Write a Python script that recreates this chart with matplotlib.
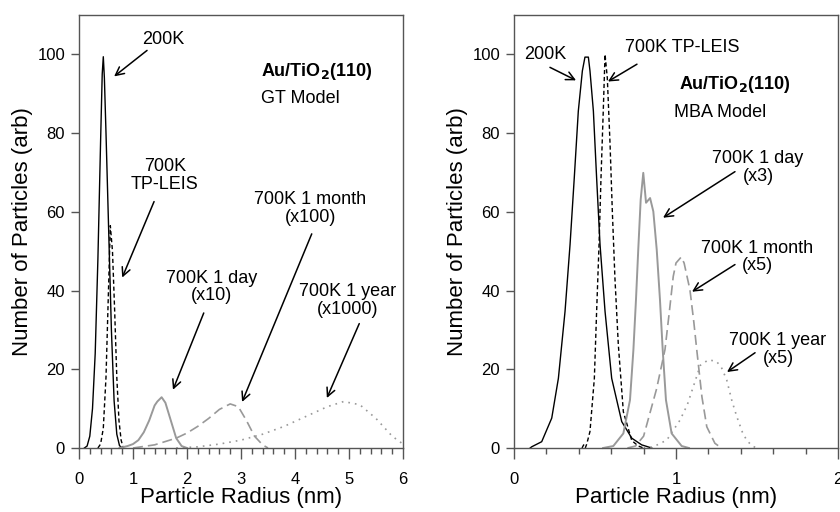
import matplotlib
matplotlib.use("Agg")
import matplotlib.pyplot as plt
from matplotlib.ticker import MultipleLocator

plt.rcParams['font.family'] = ['Liberation Sans', 'DejaVu Sans']

# ---------------- Left panel (GT model) ----------------
gt_200k_x = [0.10, 0.15, 0.20, 0.25, 0.30, 0.35, 0.40, 0.43, 0.45, 0.47, 0.50, 0.55, 0.60, 0.65, 0.70, 0.75, 0.80]
gt_200k_y = [0.0, 0.5, 3.0, 10.0, 24.0, 48.0, 78.0, 95.0, 99.4, 94.0, 80.0, 55.0, 30.0, 12.0, 3.5, 0.6, 0.0]

gt_leis_x = [0.35, 0.40, 0.45, 0.50, 0.55, 0.58, 0.62, 0.66, 0.70, 0.74, 0.78, 0.82]
gt_leis_y = [0.0, 1.0, 5.0, 18.0, 42.0, 56.5, 50.0, 35.0, 18.0, 7.0, 2.0, 0.0]

gt_day_x = [0.75, 0.90, 1.00, 1.10, 1.20, 1.30, 1.40, 1.45, 1.53, 1.60, 1.70, 1.80, 1.90, 2.00]
gt_day_y = [0.0, 0.5, 1.0, 2.0, 4.0, 7.0, 10.8, 11.8, 12.9, 11.5, 7.0, 2.5, 0.5, 0.0]

gt_month_x = [1.0, 1.4, 1.8, 2.0, 2.2, 2.4, 2.6, 2.8, 2.95, 3.1, 3.25, 3.4, 3.5]
gt_month_y = [0.0, 0.8, 2.5, 3.8, 5.5, 7.5, 9.8, 11.2, 10.5, 7.0, 3.0, 0.8, 0.0]

gt_year_x = [1.8, 2.2, 2.6, 3.0, 3.4, 3.8, 4.2, 4.6, 4.9, 5.2, 5.5, 5.8, 6.0]
gt_year_y = [0.0, 0.3, 1.0, 2.0, 3.5, 5.5, 8.0, 10.5, 11.8, 11.0, 7.5, 3.0, 1.0]

# ---------------- Right panel (MBA model) ----------------
mba_200k_x = [0.10, 0.109, 0.171, 0.233, 0.274, 0.315, 0.346, 0.372, 0.397, 0.422, 0.438, 0.459,
              0.469, 0.490, 0.510, 0.531, 0.562, 0.603, 0.665, 0.727, 0.788, 0.85]
mba_200k_y = [0.0, 0.3, 1.6, 7.6, 17.7, 34.7, 51.7, 68.6, 85.6, 95.8, 99.3, 99.3,
              95.8, 85.6, 68.6, 51.7, 34.7, 17.7, 6.7, 2.5, 0.8, 0.0]

mba_leis_x = [0.42, 0.43, 0.44, 0.449, 0.469, 0.496, 0.510, 0.525, 0.537, 0.551, 0.562,
              0.576, 0.593, 0.607, 0.623, 0.644, 0.675, 0.727, 0.767, 0.80]
mba_leis_y = [0.0, 0.8, 0.0, 1.0, 4.2, 17.7, 34.7, 51.7, 68.6, 85.6, 100.0,
              94.0, 77.1, 60.1, 43.2, 26.2, 9.2, 1.9, 0.5, 0.0]

mba_day_x = [0.55, 0.613, 0.675, 0.716, 0.737, 0.753, 0.767, 0.782, 0.798, 0.815, 0.840, 0.860,
             0.881, 0.901, 0.918, 0.938, 0.973, 1.035, 1.08]
mba_day_y = [0.0, 0.5, 3.7, 12.2, 24.9, 37.7, 50.4, 63.1, 69.9, 62.3, 63.5, 60.1,
             50.4, 37.7, 24.9, 12.2, 3.7, 0.5, 0.0]

mba_month_x = [0.70, 0.75, 0.80, 0.84, 0.88, 0.932, 0.96, 0.983, 1.00, 1.032, 1.05, 1.086, 1.11, 1.128, 1.16, 1.19, 1.24, 1.28]
mba_month_y = [0.0, 0.5, 3.0, 9.0, 15.0, 25.0, 35.0, 43.6, 47.0, 48.5, 47.0, 40.2, 32.0, 25.0, 13.0, 5.4, 1.2, 0.0]

mba_year_x = [0.80, 0.86, 0.943, 1.025, 1.07, 1.107, 1.15, 1.20, 1.25, 1.28, 1.313, 1.345, 1.375, 1.41, 1.436, 1.47, 1.50]
mba_year_y = [0.0, 0.3, 2.0, 7.1, 11.0, 15.6, 21.0, 22.4, 22.0, 20.5, 17.3, 12.0, 8.0, 4.0, 2.0, 0.5, 0.0]

gt_xticks = [0, 1, 2, 3, 4, 5, 6]
mba_xticks = [0, 1, 2]
yticks = [0, 20, 40, 60, 80, 100]

GRAY = '#999999'
SPINE = '#555555'

fig = plt.figure(figsize=(8.4, 5.12), dpi=100)
axL = fig.add_axes([79/840, 64/512, 324/840, 433/512])
axR = fig.add_axes([514/840, 64/512, 324/840, 433/512])

def style(ax, xmax, xticks):
    ax.set_xlim(0, xmax)
    ax.set_ylim(0, 110)
    ax.set_xticks(xticks)
    ax.xaxis.set_minor_locator(MultipleLocator(0.2))
    ax.set_yticks(yticks)
    for s in ax.spines.values():
        s.set_color(SPINE)
        s.set_linewidth(1.0)
    ax.tick_params(axis='x', which='major', direction='out', length=8, width=1.0, color=SPINE, labelsize=12, pad=9)
    ax.tick_params(axis='x', which='minor', direction='out', length=4, width=1.0, color=SPINE)
    ax.tick_params(axis='y', which='major', direction='out', length=6, width=1.0, color=SPINE, labelsize=12, pad=4)
    ax.set_xlabel('Particle Radius (nm)', fontsize=16, labelpad=0)
    ax.set_ylabel('Number of Particles (arb)', fontsize=16, labelpad=3)

def plot_set(ax, s200, leis, day, month, year):
    ax.plot(*s200, color='black', lw=1.0, clip_on=False)
    ax.plot(*leis, color='black', lw=1.0, linestyle=(0, (3, 2)), clip_on=False)
    ax.plot(*day, color=GRAY, lw=1.4, clip_on=False)
    ax.plot(*month, color=GRAY, lw=1.2, linestyle=(0, (6, 3)), clip_on=False)
    ax.plot(*year, color=GRAY, lw=1.2, linestyle=(0, (1, 3)), clip_on=False)

plot_set(axL, (gt_200k_x, gt_200k_y), (gt_leis_x, gt_leis_y), (gt_day_x, gt_day_y),
         (gt_month_x, gt_month_y), (gt_year_x, gt_year_y))
plot_set(axR, (mba_200k_x, mba_200k_y), (mba_leis_x, mba_leis_y), (mba_day_x, mba_day_y),
         (mba_month_x, mba_month_y), (mba_year_x, mba_year_y))

style(axL, 6, gt_xticks)
style(axR, 2, mba_xticks)

arrow = dict(arrowstyle='->', color='black', lw=1.1, shrinkA=0, shrinkB=0, mutation_scale=15)
fs = 13

def ann(ax, text, xy, xyt, tx, ty):
    ax.annotate('', xy=xy, xytext=xyt, arrowprops=arrow)
    ax.text(tx, ty, text, ha='center', va='center', fontsize=fs, linespacing=1.05)

# Left annotations
ann(axL, '200K', (0.65, 94.4), (1.26, 101.0), 1.56, 103.8)
ann(axL, '700K\nTP-LEIS', (0.80, 43.3), (1.39, 62.6), 1.59, 69.3)
ann(axL, '700K 1 month\n(x100)', (3.02, 11.7), (4.31, 54.4), 4.28, 60.9)
ann(axL, '700K 1 day\n(x10)', (1.74, 14.8), (2.31, 34.3), 2.46, 40.9)
ann(axL, '700K 1 year\n(x1000)', (4.59, 12.7), (5.19, 31.6), 4.98, 37.4)
axL.text(3.37, 95.7, r'Au/TiO$_\mathbf{2}$(110)', ha='left', va='center', fontsize=fs, fontweight='bold')
axL.text(3.37, 88.8, 'GT Model', ha='left', va='center', fontsize=fs)

# Right annotations
ann(axR, '200K', (0.383, 93.4), (0.222, 96.7), 0.19, 100.0)
axR.annotate('', xy=(0.58, 93.1), xytext=(0.759, 97.5), arrowprops=arrow)
axR.text(1.04, 101.8, '700K TP-LEIS', ha='center', va='center', fontsize=fs)
ann(axR, '700K 1 day\n(x3)', (0.92, 58.5), (1.364, 70.2), 1.506, 71.3)
ann(axR, '700K 1 month\n(x5)', (1.099, 39.7), (1.364, 46.6), 1.50, 48.5)
ann(axR, '700K 1 year\n(x5)', (1.315, 19.3), (1.488, 24.2), 1.63, 25.0)
axR.text(1.364, 92.4, r'Au/TiO$_\mathbf{2}$(110)', ha='center', va='center', fontsize=fs, fontweight='bold')
axR.text(1.27, 85.2, 'MBA Model', ha='center', va='center', fontsize=fs)

fig.savefig('out.png', dpi=100)
